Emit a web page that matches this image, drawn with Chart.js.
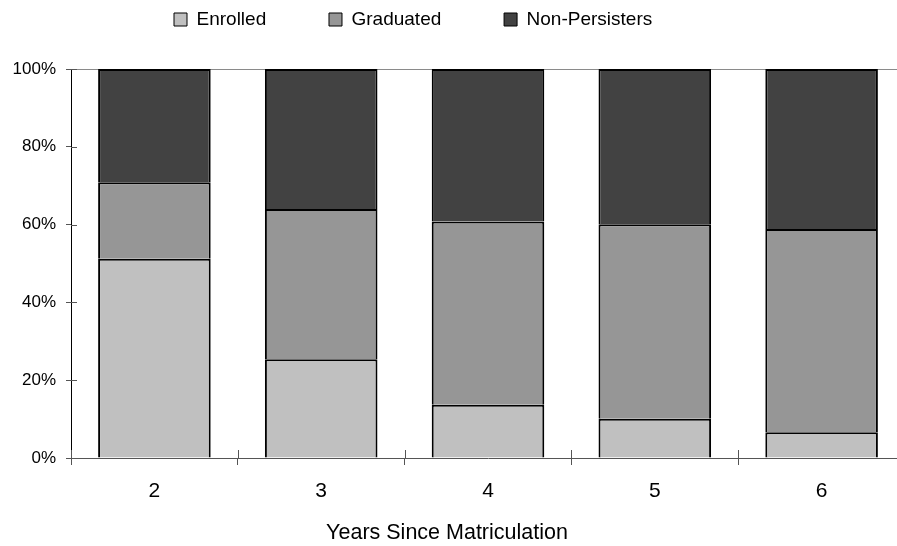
<!DOCTYPE html>
<html>
<head>
<meta charset="utf-8">
<script src="https://cdn.jsdelivr.net/npm/chart.js@4"></script>
<style>
  html, body { margin: 0; padding: 0; background: #fff; overflow: hidden; }
  #wrap { width: 930px; height: 546px; }
</style>
</head>
<body>
<div id="wrap"><canvas id="chart" width="930" height="546"></canvas></div>
<script>
/* data */

let years = ["2", "3", "4", "5", "6"];

let enrolled      = [51.2, 25.4, 13.7, 10.1, 6.6];
let graduated     = [19.7, 38.6, 47.1, 50.0, 52.3];
let nonPersisters = [29.1, 36.0, 39.2, 39.9, 41.1];

let yTicks = [0, 20, 40, 60, 80, 100];


/* helpers */

const FONT = "'Liberation Sans', Arial, sans-serif";
Chart.defaults.color = "#000";
Chart.defaults.font.family = FONT;

// legend and axis title sit where excel put them, not where chart.js would
const boxPlace = {
    id: "boxPlace",
    afterLayout(chart)
    {
        let lg = chart.legend;
        if (lg) {
            let start = (lg.left + 10 + lg.right - lg.lineWidths[0]) / 2;
            let dx = 174 - start;
            lg.left += dx;
            lg.right += dx;
            lg.top -= 30;
            lg.bottom -= 30;
        }
        let t = chart.titleBlock;
        if (t) {
            let dx = 447 - (t.left + t.right) / 2;
            t.left += dx;
            t.right += dx;
        }
    }
};

// small tick marks that cross into the plot
const innerTicks = {
    id: "innerTicks",
    afterDatasetsDraw(chart)
    {
        let c = chart.ctx;
        let x = chart.scales.x;
        let y = chart.scales.y;
        c.save();
        c.lineWidth = 1;
        c.strokeStyle = "#555";
        c.beginPath();
        yTicks.forEach(v => {
            let py = Math.round(y.getPixelForValue(v)) + 0.5;
            c.moveTo(y.right, py);
            c.lineTo(y.right + 6, py);
        });
        let step = x.getPixelForValue(1) - x.getPixelForValue(0);
        for (let i = 0; i <= years.length; i++) {
            let px = Math.round(x.getPixelForValue(i) - step / 2) + 0.5;
            c.moveTo(px, x.top);
            c.lineTo(px, x.top - 8);
        }
        c.stroke();
        c.restore();
    }
};


/* CHART */

const chart = new Chart(
    document.getElementById("chart"),
    {
        type: "bar",
        data: {
            labels: years,
            datasets: [
                {
                    label: "Enrolled",
                    data: enrolled,
                    backgroundColor: "#c0c0c0"
                },
                {
                    label: "Graduated",
                    data: graduated,
                    backgroundColor: "#969696"
                },
                {
                    label: "Non-Persisters",
                    data: nonPersisters,
                    backgroundColor: "#424242"
                }
            ]
        },
        options: {
            responsive: false,
            animation: false,
            layout: {
                padding: { top: 30, right: 25, left: 0, bottom: 0 }
            },
            datasets: {
                bar: {
                    borderColor: "#000",
                    borderWidth: 2,
                    borderSkipped: "start",
                    barPercentage: 0.675,
                    categoryPercentage: 1
                }
            },
            plugins: {
                legend: {
                    position: "top",
                    labels: {
                        boxWidth: 13,
                        boxHeight: 13,
                        padding: 10,
                        font: { size: 19, family: FONT },
                        generateLabels(ch)
                        {
                            let items = Chart.defaults.plugins.legend.labels.generateLabels(ch);
                            items.forEach((it, i) => {
                                it.lineWidth = 1;
                                if (i < items.length - 1) it.text += " ".repeat(10);
                            });
                            return items;
                        }
                    }
                },
                title: {
                    display: true,
                    position: "bottom",
                    text: "Years Since Matriculation",
                    color: "#000",
                    font: { size: 21.5, family: FONT, weight: "normal" },
                    padding: { top: 2, bottom: 0 }
                },
                tooltip: { enabled: false }
            },
            scales: {
                x: {
                    stacked: true,
                    grid: {
                        display: true,
                        drawOnChartArea: false,
                        offset: true,
                        tickLength: 7,
                        tickColor: "#555",
                        color: "#555"
                    },
                    border: { color: "#555", width: 1 },
                    ticks: {
                        padding: 14,
                        font: { size: 21, family: FONT }
                    }
                },
                y: {
                    stacked: true,
                    min: 0,
                    max: 100,
                    afterFit(scale) { scale.width = 71; },
                    afterBuildTicks(scale) {
                        scale.ticks = yTicks.map(v => ({ value: v }));
                    },
                    grid: {
                        tickLength: 5,
                        tickColor: "#555",
                        color: (c) => c.tick && c.tick.value === 100 ? "#8a8a8a" : "rgba(0,0,0,0)"
                    },
                    border: { color: "#000", width: 1 },
                    ticks: {
                        padding: 10,
                        font: { size: 17, family: FONT },
                        callback: (v) => v + "%"
                    }
                }
            }
        },
        plugins: [boxPlace, innerTicks]
    }
);
</script>
</body>
</html>
